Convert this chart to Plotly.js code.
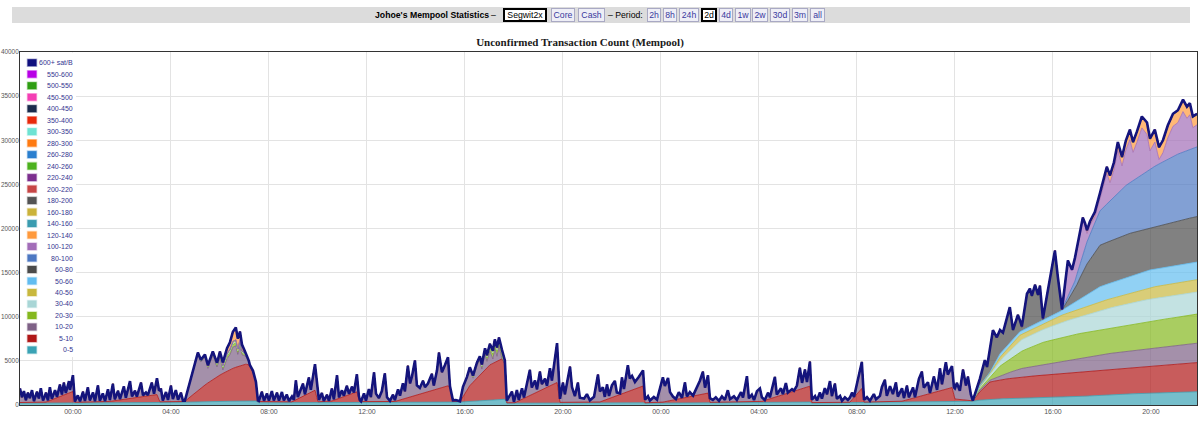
<!DOCTYPE html>
<html>
<head>
<meta charset="utf-8">
<title>Johoe's Mempool Statistics</title>
<script src="https://cdn.plot.ly/plotly-3.0.1.min.js"></script>
<style>
html,body{margin:0;padding:0;background:#fff;}
#wrap{position:relative;width:1200px;height:423px;overflow:hidden;font-family:"Liberation Sans",Arial,sans-serif;}
#chart{position:absolute;left:0;top:0;width:1200px;height:423px;}
#bar{position:absolute;left:12px;top:7px;width:1178px;height:16px;background:#dcdcdc;z-index:2;}
.ht{position:absolute;top:7px;height:16px;line-height:16px;font-size:8.7px;color:#000;z-index:3;white-space:nowrap;}
.btn{position:absolute;top:8px;height:14px;line-height:12px;box-sizing:border-box;border:1px solid #a9a9c4;background:#eeeef6;color:#3a3a9e;font-size:8.7px;text-align:center;z-index:3;white-space:nowrap;}
.btn.sel{border:2px solid #000;background:#fff;color:#000;line-height:10px;}
</style>
</head>
<body>
<div id="wrap">
<div id="chart"></div>
<div id="bar"></div>
<span class="ht" style="left:375px;font-weight:bold;">Johoe's Mempool Statistics</span>
<span class="ht" style="left:491px;">–</span>
<span class="btn sel" style="left:503px;width:44px;">Segwit2x</span>
<span class="btn" style="left:551px;width:24px;">Core</span>
<span class="btn" style="left:578px;width:27px;">Cash</span>
<span class="ht" style="left:608px;">– Period:</span>
<span class="btn" style="left:647px;width:14px;">2h</span>
<span class="btn" style="left:663px;width:14px;">8h</span>
<span class="btn" style="left:679px;width:20px;">24h</span>
<span class="btn sel" style="left:701px;width:16px;">2d</span>
<span class="btn" style="left:719px;width:14px;">4d</span>
<span class="btn" style="left:735px;width:16px;">1w</span>
<span class="btn" style="left:752px;width:16px;">2w</span>
<span class="btn" style="left:770px;width:20px;">30d</span>
<span class="btn" style="left:792px;width:16px;">3m</span>
<span class="btn" style="left:810px;width:15px;">all</span>
</div>
<script>
// ---- data: time in hours relative to 00:00 of the first full day ----
const bandNames = ['0-5','5-10','10-20','20-30','30-40','40-50','50-60','60-80','80-100','100-120','120-140','140-160','160-180','180-200','200-220','220-240','240-260','260-280','280-300','300-350','350-400','400-450','450-500','500-550','550-600','600+ sat/B'];
const bandColors = ['#3aa3b5','#b01717','#7e6186','#85b81e','#a9d6d6','#c9b83e','#62bdf0','#4b4b4b','#4d78c2','#a26db8','#ff9a3c','#3a9cb0','#cbb33a','#545454','#c74646','#7c2f8e','#4cb21e','#2a7fcf','#ff7b12','#6fe3d3','#e8290b','#1a2b4c','#f43fb4','#2e9e12','#b800e6','#10107e'];

const xTickVals = [0,4,8,12,16,20,24,28,32,36,40,44];
const xTickText = ['00:00','04:00','08:00','12:00','16:00','20:00','00:00','04:00','08:00','12:00','16:00','20:00'];
const xRange = [-2.16, 45.88];

const b_0_5 = [[-2.16,200],[4.57,300],[6.82,450],[7.47,450],[7.59,250],[13.35,300],[15.80,330],[17.63,650],[17.71,200],[23.14,330],[23.35,200],[30.08,330],[30.16,220],[36.00,380],[36.73,420],[37.02,550],[37.43,650],[37.84,700],[38.65,750],[39.47,800],[40.29,850],[41.10,950],[41.92,1100],[42.94,1230],[43.96,1350],[44.98,1430],[45.88,1500]];

const b_5_10 = [[-2.16,80],[-1.14,80],[0,1300],[0.08,80],[1.31,80],[3.43,900],[3.55,80],[4.57,100],[5.18,1500],[5.80,2700],[6.41,3600],[7.02,4200],[7.18,4100],[7.35,3300],[7.47,2100],[7.55,150],[8.94,100],[9.88,1400],[10.00,100],[10.49,100],[11.59,1200],[11.71,100],[13.14,100],[15.31,1850],[15.39,1700],[15.51,100],[15.80,50],[16.20,1800],[16.61,2900],[17.02,4000],[17.51,4600],[17.63,4000],[17.71,50],[18.04,50],[19.76,2300],[19.88,50],[21.51,50],[23.27,1900],[23.35,50],[23.96,50],[25.92,1100],[26.00,50],[28.04,50],[30.08,1800],[30.16,50],[31.71,50],[32.20,1600],[32.29,50],[33.76,50],[35.88,1600],[36.00,300],[36.73,50],[37.02,950],[37.43,1950],[37.84,2150],[38.65,2400],[39.47,2550],[40.29,2700],[41.10,2800],[41.92,2800],[42.94,2920],[43.96,3050],[44.98,3170],[45.88,3300]];

// 10-20 sat/B: the fast saw-tooth of the first 38 hours, then the smooth growth of the last hours
const b_10_20 = [
[-2.16,1600],[-2.08,600],[-2.00,1300],[-1.92,250],[-1.84,1100],[-1.76,500],[-1.67,1400],[-1.59,150],[-1.47,1200],[-1.39,450],
[-1.31,1600],[-1.22,200],[-1.10,1050],[-1.02,100],[-0.94,1500],[-0.86,100],[-0.73,950],[-0.65,100],[-0.53,1350],[-0.45,150],
[-0.37,1400],[-0.29,150],[-0.16,1350],[-0.12,300],[0.00,1850],[0.08,80],[0.20,780],[0.29,100],[0.41,1180],[0.49,150],
[0.61,1680],[0.69,200],[0.82,1080],[0.90,100],[1.02,1880],[1.10,150],[1.22,980],[1.31,100],[1.43,1400],[1.51,150],
[1.63,1930],[1.71,150],[1.84,1050],[1.92,100],[2.08,1460],[2.16,150],[2.33,1970],[2.41,200],[2.53,790],[2.61,100],
[2.78,1600],[2.86,150],[2.98,420],[3.06,80],[3.22,1430],[3.31,150],[3.43,1850],[3.51,1080],[3.59,1500],[3.67,150],
[3.80,1100],[3.88,200],[4.00,1800],[4.08,300],[4.20,1300],[4.29,200],[4.41,1000],[4.49,100],[4.57,100],
[4.82,1900],[4.98,3250],[5.10,4100],[5.22,2950],[5.39,3150],[5.51,1650],[5.71,2750],[5.88,1100],[6.00,2030],[6.12,400],
[6.29,1420],[6.41,1680],[6.53,2410],[6.65,2435],[6.73,1380],[6.82,2417],[6.90,1170],[7.02,925],[7.10,700],[7.22,50],
[7.35,30],[7.47,20],[7.59,60],
[7.71,1100],[7.80,100],[7.92,900],[8.00,100],[8.12,1200],[8.20,120],[8.33,1000],[8.41,120],[8.53,1100],[8.61,150],
[8.73,800],[8.82,80],[8.94,600],[9.02,100],[9.10,2200],[9.18,210],[9.39,1430],[9.47,115],[9.63,1790],[9.71,280],
[9.88,2950],[9.96,1600],[10.04,195],[10.16,990],[10.24,100],[10.37,780],[10.45,100],[10.57,1400],[10.65,100],[10.78,2700],
[10.86,120],[10.98,790],[11.06,100],[11.18,1090],[11.27,100],[11.39,780],[11.47,50],[11.59,2000],[11.67,280],[11.76,30],
[11.88,920],[11.96,100],[12.08,1410],[12.16,510],[12.29,3300],[12.37,900],[12.49,390],[12.61,1190],[12.73,3180],[12.82,480],
[12.94,70],[13.06,760],[13.14,160],[13.27,1260],[13.35,490],[13.47,1790],[13.55,820],[13.67,3600],[13.76,1550],[13.84,2280],
[13.96,3970],[14.04,1100],[14.16,700],[14.29,1400],[14.37,630],[14.49,930],[14.65,1890],[14.73,520],[14.86,2120],[14.94,4050],
[15.06,1750],[15.18,2430],[15.31,3230],[15.39,100],[15.51,100],[15.63,150],[15.80,35],
[15.92,1070],[16.08,1350],[16.20,1850],[16.33,470],[16.49,1390],[16.61,1700],[16.69,470],[16.82,1820],[16.90,740],[17.02,1560],
[17.14,500],[17.22,1610],[17.31,570],[17.39,1590],[17.51,50],[17.59,30],[17.67,30],[17.76,500],
[17.92,1250],[18.00,100],[18.12,1330],[18.20,100],[18.33,1250],[18.41,100],[18.53,1580],[18.65,2900],[18.73,800],[18.86,1430],
[18.94,320],[19.06,2150],[19.14,640],[19.27,1080],[19.35,170],[19.47,2000],[19.55,490],[19.76,4470],[19.88,400],
[20.00,2220],[20.08,920],[20.29,4020],[20.37,1720],[20.49,700],[20.61,2200],[20.69,500],[20.86,400],[20.98,900],[21.10,200],
[21.27,600],[21.43,3100],[21.51,1200],[21.63,1550],[21.71,365],[21.80,1680],[21.88,290],[22.00,1360],[22.12,1725],[22.20,340],
[22.33,100],[22.41,1810],[22.49,420],[22.65,2940],[22.73,1350],[22.82,1560],[22.94,730],[23.10,1150],[23.27,1770],[23.35,350],
[23.47,750],[23.55,250],[23.71,650],[23.84,350],[23.96,1540],[24.08,2820],[24.16,1780],[24.29,2610],[24.37,970],[24.49,400],
[24.61,50],[24.73,760],[24.86,50],[24.98,1730],[25.06,100],[25.18,520],[25.31,50],[25.47,860],[25.59,1590],[25.71,2530],
[25.80,680],[25.92,2020],[26.00,470],[26.12,270],[26.24,570],[26.37,170],[26.49,670],[26.61,270],[26.73,1360],[26.82,360],
[26.98,660],[27.10,260],[27.27,1130],[27.35,530],[27.51,2930],[27.59,430],[27.71,830],[27.80,230],[27.92,1230],[28.04,1530],
[28.12,460],[28.24,40],[28.37,750],[28.45,180],[28.65,2300],[28.73,235],[28.90,795],[28.98,60],[29.10,1220],[29.18,60],
[29.35,310],[29.43,60],[29.55,535],[29.67,2430],[29.76,660],[29.88,2055],[29.96,585],[30.08,2770],[30.16,330],[30.29,730],
[30.37,230],[30.49,1130],[30.57,430],[30.69,1630],[30.78,930],[30.90,2420],[30.98,720],[31.10,2120],[31.18,420],[31.31,720],
[31.39,165],[31.51,565],[31.63,265],[31.80,800],[31.88,60],[32.04,1620],[32.20,3000],[32.29,250],[32.41,550],[32.53,150],
[32.69,900],[32.78,300],[32.94,690],[33.02,1690],[33.14,2490],[33.22,690],[33.35,1780],[33.47,880],[33.59,2180],[33.67,580],
[33.84,1460],[33.92,300],[34.04,1600],[34.12,240],[34.29,1210],[34.37,60],[34.53,2020],[34.65,2730],[34.73,860],[34.90,1340],
[34.98,60],[35.14,1800],[35.27,200],[35.39,2550],[35.47,690],[35.63,3060],[35.71,1590],[35.88,2430],[35.96,890],[36.08,1840],
[36.20,980],[36.33,3420],[36.45,1650],[36.53,2680],[36.65,710],[36.73,30],
[37.02,200],[37.43,200],[37.84,450],[38.65,950],[39.47,1150],[40.29,1350],[41.10,1550],[41.92,1800],[42.94,1900],[43.96,2000],[44.98,2100],[45.88,2200]
];

const t_mid = [-2.16,4.57,5.59,6.65,7.06,7.22,7.55,15.80,16.61,17.22,17.51,17.63,17.71,36.73,37.02,37.43,37.84,38.65,39.47,40.29,41.10,41.92,42.94,43.96,44.98,45.88];
const v_20_30 = [0,0,180,320,140,70,0, 0,250,550,550,200,0, 0,150,300,1100,1900,2500,2700,2800,2800,2950,3100,3200,3300];
const v_30_40 = [0,0,80,140,60,30,0, 0,80,180,180,70,0, 0,150,300,600,1300,1400,1700,1900,2200,2400,2500,2500,2500];
const v_40_50 = [0,0,60,120,50,25,0, 0,70,170,170,60,0, 0,100,150,400,600,600,800,900,1000,1100,1300,1400,1400];
const v_50_60 = [0,0,60,100,50,25,0, 0,50,100,100,50,0, 0,100,150,400,400,400,500,1100,1700,1900,2000,2000,2000];

// 60-80 sat/B: saw-tooth of the first part of the final climb, then smooth
const b_60_80 = [[-2.16,0],[36.73,0],
[37.02,780],[37.22,2120],[37.31,1020],[37.43,2760],[37.55,4130],[37.71,2480],[37.84,2640],[37.96,1960],[38.12,3250],[38.24,3970],
[38.37,990],[38.57,2050],[38.73,380],[38.94,3790],[39.06,4220],[39.14,3310],[39.27,4340],[39.39,3060],[39.47,3950],[39.59,100],
[39.88,4100],[40.08,7120],[40.20,3970],[40.37,60],[40.90,1500],[41.31,3300],[41.92,4700],[42.94,4900],[43.96,4750],[44.98,5000],[45.88,5150]
];

const b_80_100 = [[-2.16,0],[36.73,0],[39.47,150],[40.37,50],[40.90,900],[41.31,2300],[41.92,3900],[42.94,5500],[43.96,6700],[44.98,7500],[45.88,7900]];

const b_100_120 = [[-2.16,0],[40.37,0],[40.61,4000],[40.78,1870],[40.98,2900],[41.22,3850],[41.39,950],[41.51,1080],[41.71,730],[41.92,1360],[42.20,3460],[42.33,2070],[42.49,3050],[42.65,4840],[42.82,2620],[42.98,4040],[43.14,4880],[43.27,3200],[43.43,4040],[43.63,5280],[43.84,4130],[43.96,2050],[44.16,2740],[44.33,500],[44.49,1030],[44.69,2420],[44.90,3400],[45.10,3570],[45.31,4600],[45.47,3660],[45.59,3950],[45.71,2350],[45.88,2500]];

const b_120_140 = [[-2.16,0],[5.92,0],[6.41,800],[6.65,1400],[6.90,700],[7.06,0],[40.37,0],[41.10,200],[41.92,600],[42.94,1000],[43.96,1300],[44.98,1300],[45.88,1100]];

const t_top = [-2.16, 40.37, 45.88];
const v_140_160 = [0,0,30];
const v_160_180 = [0,0,20];
const v_180_200 = [0,0,20];
const v_200_220 = [0,0,40];
const v_220_240 = [0,0,10];
const v_240_260 = [0,0,10];
const v_260_280 = [0,0,5];
const v_280_300 = [0,0,5];
const v_300_350 = [0,0,5];
const v_350_400 = [0,0,5];
const v_400_450 = [0,0,0];
const v_450_500 = [0,0,0];
const v_500_550 = [0,0,0];
const v_550_600 = [0,0,0];
const v_600 = [0,0,0];

// ---- assemble series (bottom to top) ----
const pairs = (t, v) => t.map((x, i) => [x, v[i]]);
const series = [
  b_0_5, b_5_10, b_10_20,
  pairs(t_mid, v_20_30), pairs(t_mid, v_30_40), pairs(t_mid, v_40_50), pairs(t_mid, v_50_60),
  b_60_80, b_80_100, b_100_120, b_120_140,
  pairs(t_top, v_140_160), pairs(t_top, v_160_180), pairs(t_top, v_180_200), pairs(t_top, v_200_220),
  pairs(t_top, v_220_240), pairs(t_top, v_240_260), pairs(t_top, v_260_280), pairs(t_top, v_280_300),
  pairs(t_top, v_300_350), pairs(t_top, v_350_400), pairs(t_top, v_400_450), pairs(t_top, v_450_500),
  pairs(t_top, v_500_550), pairs(t_top, v_550_600), pairs(t_top, v_600)
];

function rgba(hex, a) {
  const n = parseInt(hex.slice(1), 16);
  return 'rgba(' + ((n >> 16) & 255) + ',' + ((n >> 8) & 255) + ',' + (n & 255) + ',' + a + ')';
}

const last = series.length - 1;
const traces = series.map((s, i) => ({
  type: 'scatter', mode: 'lines', stackgroup: 'mempool', stackgaps: 'interpolate',
  name: bandNames[i],
  x: s.map(p => p[0]), y: s.map(p => p[1]),
  line: { color: i === last ? '#14147c' : bandColors[i], width: i === last ? 2.6 : 0.8, shape: 'linear' },
  fillcolor: rgba(bandColors[i], 0.7),
  hoverinfo: 'skip', showlegend: false
}));

// ---- legend drawn inside the plot (layout geometry) ----
const L = 20, T = 52, W = 1177, H = 353;
const px = x => (x - L) / W;
const py = y => (T + H - y) / H;
const shapes = [{
  type: 'rect', xref: 'paper', yref: 'paper', layer: 'above',
  x0: px(20.5), x1: px(76), y0: py(357), y1: py(52.5),
  fillcolor: '#ffffff', line: { width: 0 }
}];
const annotations = [];
for (let k = 0; k < bandNames.length; k++) {
  const idx = bandNames.length - 1 - k;
  const cy = 62.7 + k * 11.49;
  shapes.push({
    type: 'rect', xref: 'paper', yref: 'paper', layer: 'above',
    x0: px(27.5), x1: px(36.5), y0: py(cy + 3.5), y1: py(cy - 3.5),
    fillcolor: bandColors[idx], line: { color: rgba(bandColors[idx], 0.35), width: 1.5 }
  });
  annotations.push({
    xref: 'paper', yref: 'paper', x: px(74.5), y: py(cy),
    xanchor: 'right', yanchor: 'middle', showarrow: false,
    text: bandNames[idx],
    font: { family: 'Liberation Sans, Arial, sans-serif', size: 7, color: '#35358f' }
  });
}

const layout = {
  width: 1200, height: 423,
  margin: { l: L, r: 1200 - L - W, t: T, b: 423 - T - H, pad: 0 },
  paper_bgcolor: '#ffffff', plot_bgcolor: '#ffffff',
  showlegend: false,
  title: {
    text: '<b>Unconfirmed Transaction Count (Mempool)</b>',
    font: { family: 'Liberation Serif, Times New Roman, serif', size: 11, color: '#1a1a1a' },
    xref: 'container', yref: 'container', x: 580 / 1200, y: 1 - 42 / 423,
    xanchor: 'center', yanchor: 'middle'
  },
  xaxis: {
    range: xRange, tickmode: 'array', tickvals: xTickVals, ticktext: xTickText,
    tickfont: { family: 'Liberation Sans, Arial, sans-serif', size: 7, color: '#555' },
    showgrid: true, gridcolor: '#e3e3e3', gridwidth: 1, zeroline: false,
    showline: true, linecolor: '#333', linewidth: 1, mirror: true, ticks: '',
    automargin: false, fixedrange: true
  },
  yaxis: {
    range: [0, 40000], tick0: 0, dtick: 5000, tickformat: 'd',
    tickfont: { family: 'Liberation Sans, Arial, sans-serif', size: 6.4, color: '#555' },
    ticklabelstandoff: -1,
    showgrid: true, gridcolor: '#e3e3e3', gridwidth: 1, zeroline: false,
    showline: true, linecolor: '#333', linewidth: 1, mirror: true, ticks: '',
    automargin: false, fixedrange: true
  },
  shapes: shapes,
  annotations: annotations
};

Plotly.newPlot('chart', traces, layout, { displayModeBar: false, staticPlot: true });
</script>
</body>
</html>
